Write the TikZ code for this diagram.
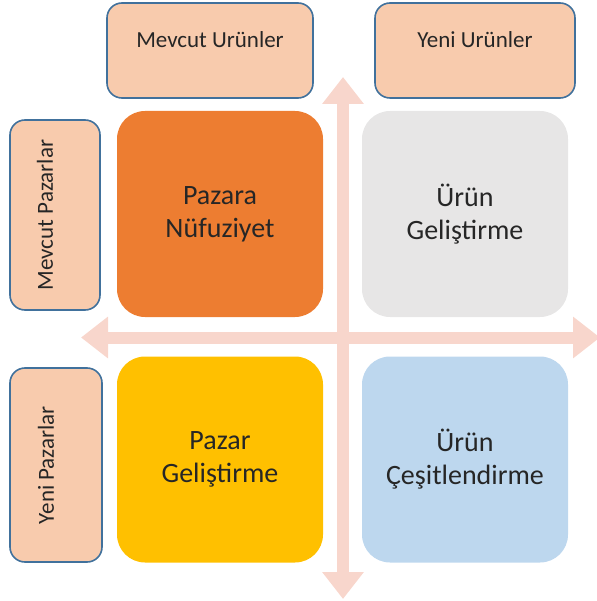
\documentclass[tikz,border=0pt]{standalone}
\usepackage{fontspec}
\setmainfont{Carlito}
\usetikzlibrary{arrows.meta}
\definecolor{hdrfill}{HTML}{F8CBAD}
\definecolor{hdrline}{HTML}{41719C}
\definecolor{qorange}{HTML}{ED7D31}
\definecolor{qgrey}{HTML}{E7E6E6}
\definecolor{qyellow}{HTML}{FFC000}
\definecolor{qblue}{HTML}{BDD7EE}
\definecolor{axis}{RGB}{248,214,204}
\definecolor{txt}{HTML}{262626}
\tikzset{
  hdr/.style={draw=hdrline, fill=hdrfill, line width=1.6pt, rounded corners=15pt, inner sep=0pt},
  quad/.style={rounded corners=28pt, minimum width=206pt, minimum height=206pt, inner sep=0pt,
               align=center, font=\fontsize{28}{33}\selectfont, text=txt},
  hlbl/.style={font=\fontsize{23}{27}\selectfont, text=txt},
  axisline/.style={draw=axis, line width=12pt, {Triangle[width=40pt,length=27pt]}-{Triangle[width=40pt,length=27pt]}}
}
\begin{document}
\begin{tikzpicture}[x=1pt,y=-1pt]
\useasboundingbox (0,0) rectangle (596,601);
% axes
\coordinate (vt) at (343,77);
\coordinate (vb) at (343,599);
\coordinate (hl) at (81,337.5);
\coordinate (hr) at (600,337.5);
\draw[axisline] (vt) -- (vb);
\draw[axisline] (hl) -- (hr);
% header boxes
\node[hdr, minimum width=206pt, minimum height=95pt,
  label={[hlbl, anchor=base, yshift=-45pt]north:Mevcut Urünler}] (mu) at (210,50.5) {};
\node[hdr, minimum width=200pt, minimum height=95pt,
  label={[hlbl, anchor=base, yshift=-45pt]north:Yeni Urünler}] (yu) at (475,50.5) {};
\node[hdr, minimum width=90pt, minimum height=190pt,
  label={[hlbl, rotate=90, anchor=center, yshift=10pt]center:Mevcut Pazarlar}] (mp) at (55,215) {};
\node[hdr, minimum width=92pt, minimum height=194pt,
  label={[hlbl, rotate=90, anchor=center, yshift=10pt]center:Yeni Pazarlar}] (yp) at (56,465) {};
% quadrants
\node[quad, fill=qorange] (pn) at (220,214) {Pazara\\Nüfuziyet};
\node[quad, fill=qgrey] (ug) at (465,214) {Ürün\\Geliştirme};
\node[quad, fill=qyellow] (pg) at (220,459.5) {Pazar\\Geliştirme};
\node[quad, fill=qblue] (uc) at (465,459.5) {Ürün\\Çeşitlendirme};
\end{tikzpicture}
\end{document}
